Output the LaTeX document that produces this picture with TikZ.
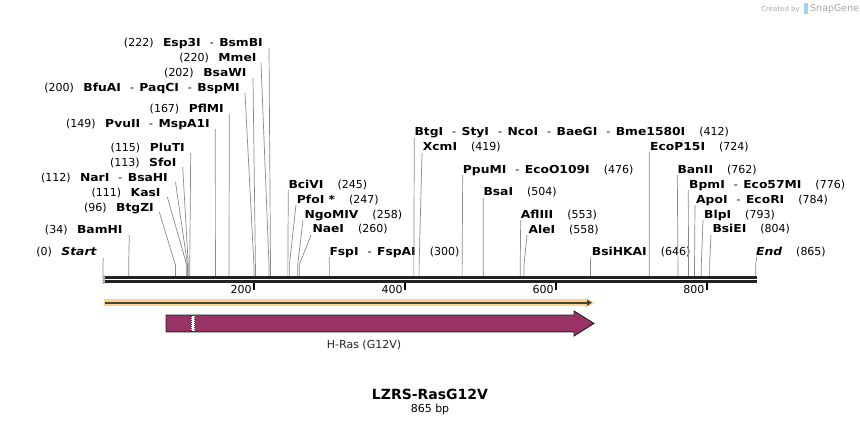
\documentclass[tikz,border=0pt]{standalone}
\usepackage{fontspec}
\setmainfont{DejaVu Sans}
\newfontface\enzbf{DejaVu Sans Bold}[FakeStretch=1.12]
\newfontface\enzbi{DejaVu Sans Bold Oblique}[FakeStretch=1.12]
\usetikzlibrary{arrows.meta}
\definecolor{rasPurple}{HTML}{993366}
\definecolor{cutgray}{HTML}{8A8A8A}
\definecolor{bbcol}{HTML}{222222}
\definecolor{featlight}{HTML}{FCD38C}
\definecolor{featdark}{HTML}{4A4234}
\definecolor{wmgray}{HTML}{A8A8A8}
\definecolor{wmblue}{HTML}{9FD3F0}
\newcommand{\nm}[1]{{\enzbf #1}}
\newcommand{\sepr}{\hspace{9pt}-\hspace{5.5pt}}
\newcommand{\gp}{\hspace{9.5pt}}
\newcommand{\gq}{\hspace{14pt}}
% left-side enzyme: name, text right x, text centre y, line top x, line top y, bp, text
\newcommand{\lenz}[7]{%
  \node[lbl, anchor=base east] (#1) at (#2,#3+4) {#7};
  \coordinate (#1t) at (#4,#5);
  \coordinate (#1b) at ({103+0.7545*#6},265);
  \coordinate (#1s) at ({103+0.7545*#6},276);
  \draw[cut] (#1t) -- (#1b) -- (#1s);
}
% right-side enzyme: name, text left x, text centre y, line top x, line top y, bp, text
\newcommand{\renz}[7]{%
  \node[lbl, anchor=base west] (#1) at (#2,#3+4) {#7};
  \coordinate (#1t) at (#4,#5);
  \coordinate (#1b) at ({103+0.7545*#6},265);
  \coordinate (#1s) at ({103+0.7545*#6},276);
  \draw[cut] (#1t) -- (#1b) -- (#1s);
}
\begin{document}
\begin{tikzpicture}[x=1pt,y=-1pt,
  lbl/.style={inner sep=0pt, font=\fontsize{11}{13}\selectfont, text=black},
  cut/.style={draw=cutgray, line width=0.7pt},
  ticklbl/.style={inner sep=0pt, font=\fontsize{11}{13}\selectfont, text=black, anchor=base east}]
\useasboundingbox[fill=white] (0,0) rectangle (860,426);

% watermark
\node[inner sep=0pt, anchor=base east, font=\fontsize{7}{8}\selectfont, text=wmgray] (wm1) at (800,11) {Created by};
\fill[wmblue] (803.5,3) rectangle (807.5,14);
\node[inner sep=0pt, anchor=base west, font=\fontsize{9.5}{10}\selectfont, text=wmgray] (wm2) at (810,11.5) {SnapGene};

% left enzymes
\lenz{esp}{263}{42}{269}{48}{222}{(222)\gp\nm{Esp3I}\sepr\nm{BsmBI}}
\lenz{mme}{256.7}{57}{261}{63}{220}{(220)\gp\nm{MmeI}}
\lenz{bsaw}{246.7}{72}{253}{78}{202}{(202)\gp\nm{BsaWI}}
\lenz{bfua}{240}{87}{245}{93}{200}{(200)\gp\nm{BfuAI}\sepr\nm{PaqCI}\sepr\nm{BspMI}}
\lenz{pflm}{224}{108}{229.3}{114}{167}{(167)\gp\nm{PflMI}}
\lenz{pvu}{210}{123}{215.3}{129}{149}{(149)\gp\nm{PvuII}\sepr\nm{MspA1I}}
\lenz{plut}{185}{147}{190.7}{153}{115}{(115)\gp\nm{PluTI}}
\lenz{sfo}{176.7}{162}{182.7}{167}{113}{(113)\gp\nm{SfoI}}
\lenz{nar}{168}{177}{175.5}{182}{112}{(112)\gp\nm{NarI}\sepr\nm{BsaHI}}
\lenz{kas}{160.7}{192}{167.3}{197}{111}{(111)\gp\nm{KasI}}
\lenz{btgz}{154}{207}{159.3}{212}{96}{(96)\gp\nm{BtgZI}}
\lenz{bam}{122.7}{229}{129.3}{235}{34}{(34)\gp\nm{BamHI}}
\lenz{start}{96.7}{251}{103.3}{258}{0}{(0)\gp{\enzbi Start}}

% right enzymes
\renz{bci}{288.3}{184}{288.3}{190}{245}{\nm{BciVI}\gq(245)}
\renz{pfo}{296.7}{199}{296}{205}{247}{\nm{PfoI *}\gq(247)}
\renz{ngo}{304.3}{214}{303}{220}{258}{\nm{NgoMIV}\gq(258)}
\renz{nae}{312.3}{228.5}{311}{235}{260}{\nm{NaeI}\gq(260)}
\renz{fsp}{329.3}{251}{329.3}{257}{300}{\nm{FspI}\sepr\nm{FspAI}\gq(300)}
\renz{btgi}{414.3}{131.7}{414.3}{138}{412}{\nm{BtgI}\sepr\nm{StyI}\sepr\nm{NcoI}\sepr\nm{BaeGI}\sepr\nm{Bme1580I}\gq(412)}
\renz{xcm}{422.7}{146.7}{422}{153}{419}{\nm{XcmI}\gq(419)}
\renz{ppu}{462.7}{169}{462.7}{175}{476}{\nm{PpuMI}\sepr\nm{EcoO109I}\gq(476)}
\renz{bsai}{483.3}{191.7}{483.3}{198}{504}{\nm{BsaI}\gq(504)}
\renz{afl}{520.7}{214.3}{520.7}{220}{553}{\nm{AflIII}\gq(553)}
\renz{ale}{528.3}{229}{527}{235}{558}{\nm{AleI}\gq(558)}
\renz{bsihk}{591.7}{251}{590.7}{257}{646}{\nm{BsiHKAI}\gq(646)}
\renz{ecop}{650}{146}{649.3}{152}{724}{\nm{EcoP15I}\gq(724)}
\renz{ban}{677.3}{169.3}{677.3}{175}{762}{\nm{BanII}\gq(762)}
\renz{bpm}{689}{184}{688.3}{190}{776}{\nm{BpmI}\sepr\nm{Eco57MI}\gq(776)}
\renz{apo}{696}{199}{695}{205}{784}{\nm{ApoI}\sepr\nm{EcoRI}\gq(784)}
\renz{blp}{704}{214}{703}{220}{793}{\nm{BlpI}\gq(793)}
\renz{bsie}{712.3}{228.5}{711}{235}{804}{\nm{BsiEI}\gq(804)}
\renz{end}{756}{251}{756.7}{257}{865}{{\enzbi End}\gq(865)}

% backbone
\coordinate (bbA1) at (104,277.3); \coordinate (bbB1) at (756.7,277.3);
\coordinate (bbA2) at (104,281.4); \coordinate (bbB2) at (756.7,281.4);
\draw[bbcol, line width=2.6pt] (bbA1) -- (bbB1);
\draw[bbcol, line width=2.4pt] (bbA2) -- (bbB2);
\fill[gray!60] (101.8,274.8) rectangle (104.6,283.5);
\foreach \yy in {275.2,277.2,279.2,281.2,283.2}{\fill[white] (102.2,\yy-0.5) rectangle (103.2,\yy+0.5);}

% ticks
\foreach \v/\nmx in {200/t200,400/t400,600/t600,800/t800}{
  \coordinate (\nmx a) at ({103+0.7545*\v},282.5);
  \coordinate (\nmx b) at ({103+0.7545*\v},289.5);
  \draw[black, line width=2pt] (\nmx a) -- (\nmx b);
  \node[ticklbl] (\nmx l) at ({103+0.7545*\v-2},293) {\v};
}

% feature arrow (yellow)
\fill[featlight] (104,299.4) rectangle (586,306);
\fill[featlight] (585,297.8) -- (594.5,302.7) -- (585,307.6) -- cycle;
\coordinate (faA) at (104.5,302.7); \coordinate (faB) at (592,302.7);
\draw[featdark, line width=2pt, -{Triangle[length=5pt,width=6pt]}] (faA) -- (faB);

% H-Ras arrow
\draw[fill=rasPurple, draw=bbcol, line width=0.9pt]
  (166,315) -- (574,315) -- (574,311) -- (594,323.4) -- (574,336) -- (574,331.8) -- (166,331.8) -- cycle;
\fill[white] (190.6,315.5) rectangle (194.9,331.3);
\draw[rasPurple!70!black, line width=0.8pt, dash pattern=on 1pt off 1pt] (191.3,315.5) -- (191.3,331.3);
\draw[rasPurple!70!black, line width=0.8pt, dash pattern=on 1pt off 1pt, dash phase=1pt] (194.2,315.5) -- (194.2,331.3);
\node[inner sep=0pt, font=\fontsize{11}{13}\selectfont, text=black!85] (hras) at (364,345) {H-Ras (G12V)};

% title
\node[inner sep=0pt, font=\fontsize{14}{16}\selectfont\bfseries] (title) at (430,394) {LZRS-RasG12V};
\node[inner sep=0pt, font=\fontsize{11}{13}\selectfont] (len) at (430,409.5) {865 bp};
\end{tikzpicture}
\end{document}
